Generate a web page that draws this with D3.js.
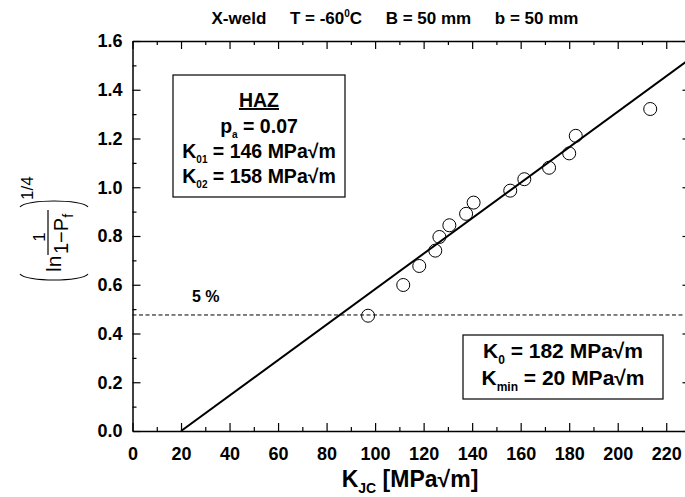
<!DOCTYPE html>
<html>
<head>
<meta charset="utf-8">
<script src="https://cdn.jsdelivr.net/npm/d3@7"></script>
<style>
  html, body { margin: 0; padding: 0; background: #fff; }
  svg { display: block; font-family: "Liberation Sans", Arial, sans-serif; }
  .tick-label { font-size: 18px; font-weight: bold; }
  .pre { white-space: pre; }
</style>
</head>
<body>
<div id="chart"></div>
<script>
// measured toughness values (MPa√m) and their rank probabilities
const kjc = [97.1, 111.6, 118.2, 124.8, 126.5, 130.6, 137.5, 140.6, 155.7, 161.5, 171.7, 180.0, 182.7, 213.4];
const weibull = [0.473, 0.599, 0.677, 0.740, 0.796, 0.844, 0.891, 0.937, 0.986, 1.033, 1.080, 1.139, 1.211, 1.321];

// fitted master-curve line
const fitK = [20, 230];
const fitY = [0, 1.528];

// 5 % level
const level5 = 0.476;

const xTicks = d3.range(0, 221, 20);
const xMinor = d3.range(10, 230, 20);
const yTicks = d3.range(0, 1.61, 0.2);
const yMinor = d3.range(0.1, 1.6, 0.2);

const width = 685;
const height = 497;
const marginLeft = 132.5;
const marginTop = 41;
const plotBottom = 431;

const x = d3.scaleLinear().domain([0, 230]).range([marginLeft, 690.5]);
const y = d3.scaleLinear().domain([0, 1.6]).range([plotBottom, marginTop]);

const svg = d3.select("#chart").append("svg").attr("width", width).attr("height", height);

svg.append("clipPath").attr("id", "plot-clip")
  .append("rect")
  .attr("x", x(0)).attr("y", y(1.6))
  .attr("width", x(230) - x(0)).attr("height", y(0) - y(1.6));

// axes, all ticks point inward
const majorLen = 8, minorLen = 4;

const bottomG = svg.append("g").attr("transform", `translate(0,${y(0)})`);
bottomG.call(d3.axisBottom(x).tickValues(xTicks).tickSize(-majorLen).tickPadding(majorLen + 4).tickSizeOuter(0));
bottomG.call((g) => g.selectAll(".tick text").attr("class", "tick-label").attr("dy", "0.95em").attr("fill", "#000"));
bottomG.append("g").call(d3.axisBottom(x).tickValues(xMinor).tickSize(-minorLen).tickFormat("").tickSizeOuter(0))
  .call((g) => g.select(".domain").remove());

const topG = svg.append("g").attr("transform", `translate(0,${y(1.6)})`);
topG.call(d3.axisTop(x).tickValues(xTicks).tickSize(-majorLen).tickFormat("").tickSizeOuter(0));
topG.append("g").call(d3.axisTop(x).tickValues(xMinor).tickSize(-minorLen).tickFormat("").tickSizeOuter(0))
  .call((g) => g.select(".domain").remove());

const leftG = svg.append("g").attr("transform", `translate(${x(0)},0)`);
leftG.call(d3.axisLeft(y).tickValues(yTicks).tickSize(-majorLen).tickPadding(majorLen + 2).tickFormat(d3.format(".1f")).tickSizeOuter(0));
leftG.call((g) => g.selectAll(".tick text").attr("class", "tick-label").attr("fill", "#000"));
leftG.append("g").call(d3.axisLeft(y).tickValues(yMinor).tickSize(-minorLen).tickFormat("").tickSizeOuter(0))
  .call((g) => g.select(".domain").remove());

const rightG = svg.append("g").attr("transform", `translate(${x(230)},0)`);
rightG.call(d3.axisRight(y).tickValues(yTicks).tickSize(-majorLen).tickFormat("").tickSizeOuter(0));
rightG.append("g").call(d3.axisRight(y).tickValues(yMinor).tickSize(-minorLen).tickFormat("").tickSizeOuter(0))
  .call((g) => g.select(".domain").remove());

svg.selectAll(".domain").attr("stroke", "#000").attr("stroke-width", 1.5);
svg.selectAll(".tick line").attr("stroke", "#000").attr("stroke-width", 1.2);

// 5 % dashed level
svg.append("line")
  .attr("x1", x(0)).attr("x2", x(230))
  .attr("y1", y(level5)).attr("y2", y(level5))
  .attr("stroke", "#000").attr("stroke-width", 1).attr("stroke-dasharray", "4,2.5");

svg.append("text").attr("x", 192).attr("y", 302)
  .attr("font-size", 16).attr("font-weight", "bold").text("5 %");

// fit line
const fitLine = d3.line().x((d) => x(d[0])).y((d) => y(d[1]));
svg.append("path")
  .datum(fitK.map((k, i) => [k, fitY[i]]))
  .attr("clip-path", "url(#plot-clip)")
  .attr("d", fitLine)
  .attr("fill", "none").attr("stroke", "#000").attr("stroke-width", 2);

// data points
svg.append("g").selectAll("circle")
  .data(kjc)
  .join("circle")
  .attr("cx", (d) => x(d))
  .attr("cy", (d, i) => y(weibull[i]))
  .attr("r", 6.5)
  .attr("fill", "none").attr("stroke", "#000").attr("stroke-width", 1);

// title
const title = svg.append("text").attr("class", "pre")
  .attr("x", 395).attr("y", 24).attr("text-anchor", "middle")
  .attr("font-size", 17).attr("font-weight", "bold");
title.append("tspan").text("X-weld     T = -60");
title.append("tspan").attr("font-size", 10).attr("dy", -7).text("0");
title.append("tspan").attr("dy", 7).text("C     B = 50 mm     b = 50 mm");

// x axis title
const xt = svg.append("text").attr("x", 410).attr("y", 487).attr("text-anchor", "middle")
  .attr("font-size", 23).attr("font-weight", "bold").attr("class", "pre");
xt.append("tspan").text("K");
xt.append("tspan").attr("font-size", 14).attr("dy", 6).text("JC");
xt.append("tspan").attr("dy", -6).text(" [MPa√m]");

// y axis title: (ln 1/(1-Pf))^(1/4)
const yl = svg.append("g").attr("transform", "translate(54,242) rotate(-90)");
yl.append("text").attr("x", -30).attr("y", 7).attr("font-size", 21).text("ln");
yl.append("text").attr("x", 5).attr("y", -9).attr("font-size", 17).attr("text-anchor", "middle").text("1");
yl.append("line").attr("x1", -13).attr("x2", 32).attr("y1", -6).attr("y2", -6).attr("stroke", "#000").attr("stroke-width", 1.2);
const den = yl.append("text").attr("x", -12).attr("y", 14).attr("font-size", 20);
den.append("tspan").text("1−P");
den.append("tspan").attr("font-size", 14).attr("dy", 5).text("f");
yl.append("text").attr("x", 42).attr("y", -21).attr("font-size", 17).text("1/4");
yl.append("path").attr("d", "M-32,-34 C-40,-28 -40,28 -32,34").attr("fill", "none").attr("stroke", "#000").attr("stroke-width", 1.2);
yl.append("path").attr("d", "M35,-34 C43,-28 43,28 35,34").attr("fill", "none").attr("stroke", "#000").attr("stroke-width", 1.2);

// HAZ box
svg.append("rect").attr("x", 173).attr("y", 75).attr("width", 172).attr("height", 122)
  .attr("fill", "#fff").attr("stroke", "#000").attr("stroke-width", 1.2);
const hazLines = [
  { main: "HAZ", sub: "", rest: "", y: 107, underline: true },
  { main: "p", sub: "a", rest: " = 0.07", y: 133 },
  { main: "K", sub: "01", rest: " = 146 MPa√m", y: 158 },
  { main: "K", sub: "02", rest: " = 158 MPa√m", y: 183 },
];
hazLines.forEach((l) => {
  const t = svg.append("text").attr("class", "pre").attr("x", 259).attr("y", l.y)
    .attr("text-anchor", "middle").attr("font-size", 19.5).attr("font-weight", "bold");
  t.append("tspan").attr("text-decoration", l.underline ? "underline" : null).text(l.main);
  if (l.sub) {
    t.append("tspan").attr("font-size", 10).attr("dy", 5).text(l.sub);
    t.append("tspan").attr("dy", -5).text(l.rest);
  }
});

// K0 box
svg.append("rect").attr("x", 463).attr("y", 335).attr("width", 200).attr("height", 64)
  .attr("fill", "#fff").attr("stroke", "#000").attr("stroke-width", 1.2);
[
  { sub: "0", rest: " = 182 MPa√m", y: 358 },
  { sub: "min", rest: " = 20 MPa√m", y: 385 },
].forEach((l) => {
  const t = svg.append("text").attr("class", "pre").attr("x", 563).attr("y", l.y)
    .attr("text-anchor", "middle").attr("font-size", 21).attr("font-weight", "bold");
  t.append("tspan").text("K");
  t.append("tspan").attr("font-size", 12).attr("dy", 6).text(l.sub);
  t.append("tspan").attr("dy", -6).text(l.rest);
});
</script>
</body>
</html>
